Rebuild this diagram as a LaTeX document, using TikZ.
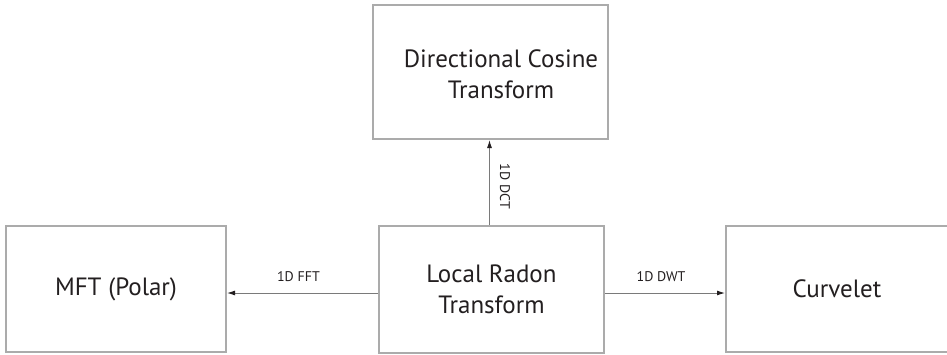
\documentclass[tikz,border=0pt]{standalone}
\usepackage{fontspec}
\usepackage{graphicx}
\setmainfont{PT Sans}
\usetikzlibrary{arrows.meta}
\definecolor{boxgray}{HTML}{ABABAB}
\definecolor{arrgray}{HTML}{7A7A7A}
\definecolor{inkblack}{HTML}{231F20}
\begin{document}
\begin{tikzpicture}[x=1pt,y=-1pt,
  blockbox/.style={draw=boxgray, line width=2pt, rectangle, inner sep=0pt},
  blocktext/.style={text=inkblack, align=center, font=\fontsize{25}{31}\selectfont, inner sep=0pt},
  arr/.style={draw=arrgray, line width=1pt, -{Latex[length=8pt,width=5pt,color=inkblack]}},
  lbl/.style={text=inkblack, font=\fontsize{14}{16}\selectfont, inner sep=0pt}]
\clip (0,0) rectangle (947,354);
\fill[white] (0,0) rectangle (947,354);
% boxes
\node[blockbox, minimum width=235pt, minimum height=134pt] (dct) at (490.5,72) {};
\node[blocktext] (dcttext) at (501,74) {Directional Cosine\\Transform};
\node[blockbox, blocktext, draw=boxgray, minimum width=225pt, minimum height=127pt] (lrt) at (491.5,289.5) {Local Radon\\Transform};
\node[blockbox, blocktext, draw=boxgray, minimum width=220pt, minimum height=126pt] (mft) at (116,289) {MFT (Polar)};
\node[blockbox, blocktext, draw=boxgray, minimum width=222pt, minimum height=126pt] (curv) at (837,289) {Curvelet};
% connectors
\draw[arr] (lrt.west |- 0,293) -- (mft.east |- 0,293)
  node[lbl, midway, anchor=south, yshift=11pt, xshift=-4pt] {1D FFT};
\draw[arr] (lrt.east |- 0,293) -- (curv.west |- 0,293)
  node[lbl, midway, anchor=south, yshift=11pt, xshift=-4pt] {1D DWT};
\draw[arr] (lrt.north -| 489.5,0) -- (dct.south -| 489.5,0)
  node[lbl, midway, anchor=west, xshift=10pt, yshift=-4pt] {\rotatebox{-90}{1D DCT}};
\end{tikzpicture}
\end{document}
